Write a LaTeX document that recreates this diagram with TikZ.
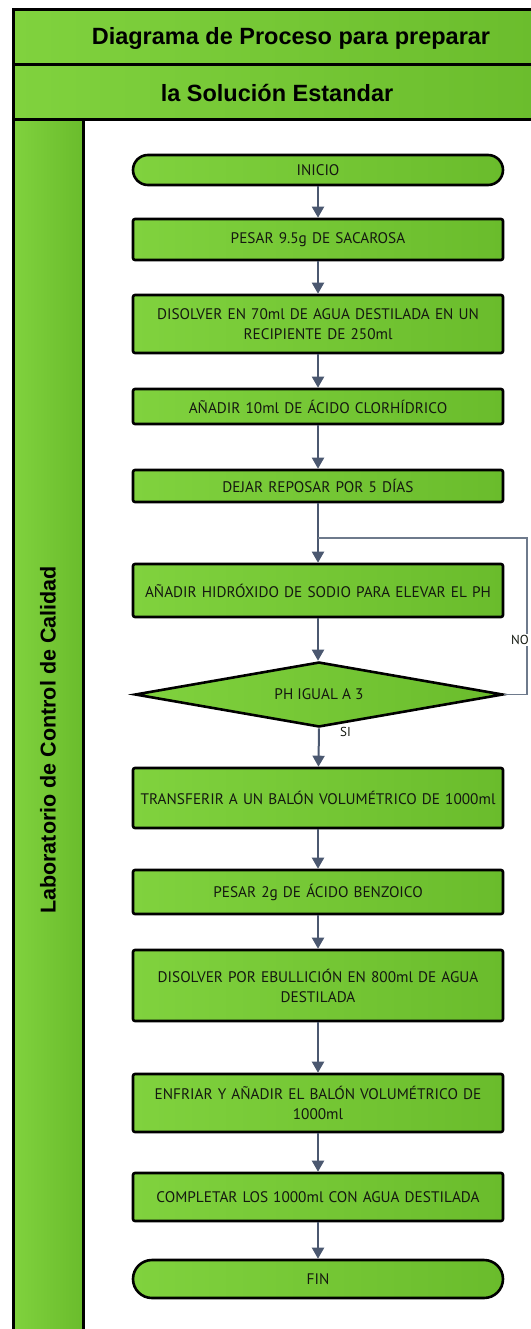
\documentclass[tikz,border=0pt]{standalone}
\usepackage{fontspec}
\setmainfont{PT Sans}
\newfontfamily\titlefont{Liberation Sans}
\usetikzlibrary{arrows.meta,shapes.geometric}
\definecolor{gLight}{RGB}{128,210,62}
\definecolor{gDark}{RGB}{106,188,44}
\definecolor{flow}{RGB}{75,88,112}
\definecolor{loopgray}{RGB}{110,122,140}
\definecolor{ink}{RGB}{20,24,16}
\begin{document}
\begin{tikzpicture}[x=1pt,y=-1pt,
  greenfill/.style={left color=gLight,right color=gDark},
  stepbox/.style={greenfill,draw=black,line width=2.6pt,rounded corners=2pt,
    minimum width=370pt,inner sep=2pt,align=center,text width=364pt,
    font=\fontsize{15.3}{20}\selectfont,text=ink},
  terminal/.style={stepbox},
  decision/.style={greenfill,draw=black,line width=2.6pt,diamond,aspect=5.7,
    minimum width=368pt,minimum height=65pt,inner sep=0pt,
    font=\fontsize{15.3}{20}\selectfont,text=ink},
  flowarrow/.style={draw=flow,line width=2pt,-{Triangle[width=12pt,length=11pt]}},
  loopline/.style={draw=loopgray,line width=1.5pt},
  lbl/.style={font=\fontsize{13}{15}\selectfont,text=ink,inner sep=1pt},
  titletext/.style={font=\titlefont\bfseries\fontsize{23.5}{28}\selectfont,text=black},
]
\useasboundingbox (0,0) rectangle (530,1329);

% swimlane frame: two title bars and the side lane
\path[greenfill] (13,10) rectangle (560,65);
\path[greenfill] (13,65) rectangle (560,120);
\path[greenfill] (13,120) rectangle (83,1360);
\draw[line width=3pt] (13,10) rectangle (560,1360);
\draw[line width=3pt] (13,65) -- (560,65);
\draw[line width=3pt] (13,120) -- (560,120);
\draw[line width=3pt] (83,120) -- (83,1360);

\node[titletext] (title1) at (291,38) {Diagrama de Proceso para preparar};
\node[titletext] (title2) at (277,93) {la Solución Estandar};
\node[titletext,rotate=90,font=\titlefont\bfseries\fontsize{21.5}{25}\selectfont] (lane) at (48,740) {Laboratorio de Control de Calidad};

% process steps
\node[terminal,rounded corners=15pt,minimum height=30pt] (inicio) at (318,170) {INICIO};
\node[stepbox,minimum height=41pt] (s1) at (318,239.5) {PESAR 9.5g DE SACAROSA};
\node[stepbox,minimum height=58pt] (s2) at (318,324) {DISOLVER EN 70ml DE AGUA DESTILADA EN UN\\RECIPIENTE DE 250ml};
\node[stepbox,minimum height=35pt] (s3) at (318,406.5) {AÑADIR 10ml DE ÁCIDO CLORHÍDRICO};
\node[stepbox,minimum height=32pt] (s4) at (318,486) {DEJAR REPOSAR POR 5 DÍAS};
\node[stepbox,minimum height=53pt] (s5) at (318,590.5) {AÑADIR HIDRÓXIDO DE SODIO PARA ELEVAR EL PH};
\node[decision] (dec) at (319,694.5) {PH IGUAL A 3};
\node[stepbox,minimum height=60pt] (s6) at (318,798) {TRANSFERIR A UN BALÓN VOLUMÉTRICO DE 1000ml};
\node[stepbox,minimum height=44pt] (s7) at (318,892) {PESAR 2g DE ÁCIDO BENZOICO};
\node[stepbox,minimum height=71pt] (s8) at (318,985.5) {DISOLVER POR EBULLICIÓN EN 800ml DE AGUA\\DESTILADA};
\node[stepbox,minimum height=58pt] (s9) at (318,1103) {ENFRIAR Y AÑADIR EL BALÓN VOLUMÉTRICO DE\\1000ml};
\node[stepbox,minimum height=48pt] (s10) at (318,1197) {COMPLETAR LOS 1000ml CON AGUA DESTILADA};
\node[terminal,rounded corners=19pt,minimum height=38pt] (fin) at (318,1279) {FIN};

% connectors
\draw[flowarrow] (inicio) -- (s1);
\draw[flowarrow] (s1) -- (s2);
\draw[flowarrow] (s2) -- (s3);
\draw[flowarrow] (s3) -- (s4);
\draw[flowarrow] (s4) -- (s5);
\draw[flowarrow] (s5) -- (s5 |- dec.north);
\draw[flowarrow] (dec.south) -- (s6);
\draw[flowarrow] (s6) -- (s7);
\draw[flowarrow] (s7) -- (s8);
\draw[flowarrow] (s8) -- (s9);
\draw[flowarrow] (s9) -- (s10);
\draw[flowarrow] (s10) -- (fin);

% return branch when the pH is not reached
\coordinate (loopjoin) at (318,538);
\coordinate (loopturn) at (527,538);
\draw[loopline] (dec.east) -| (loopturn) -- (loopjoin);
\node[lbl,fill=white,anchor=east] (no) at (530,640) {NO};
\node[lbl,anchor=north west] (si) at (339,726) {SI};
\end{tikzpicture}
\end{document}
